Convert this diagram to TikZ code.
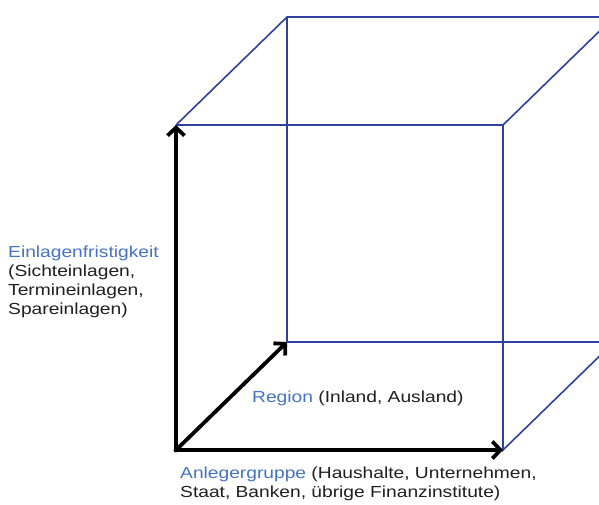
\documentclass[tikz,border=0pt]{standalone}
\usepackage{fontspec}
\setmainfont{Liberation Sans}
\usetikzlibrary{arrows.meta}
\definecolor{kante}{RGB}{47,64,160}
\definecolor{titel}{RGB}{68,114,196}

\begin{document}
\begin{tikzpicture}[x=1pt,y=-1pt,>={Straight Barb[length=8pt,width=17pt]}]
  \tikzstyle{kubus}=[draw=kante,line width=1.6pt]
  \tikzstyle{achse}=[line width=3.8pt,line cap=rect,->]
  \tikzstyle{beschr}=[inner sep=0pt,align=left,anchor=north west,text=black!88,font=\fontsize{16}{19}\selectfont\addfontfeature{FakeStretch=1.2}]
  \useasboundingbox (0,0) rectangle (599,504);
  \clip (0,0) rectangle (599,504);
  % vordere und hintere Ecken
  \coordinate (vu) at (176,450);
  \coordinate (vr) at (503,450);
  \coordinate (vo) at (176,125);
  \coordinate (vor) at (503,125);
  \coordinate (hu) at (287,342);
  \coordinate (hr) at (614,342);
  \coordinate (ho) at (287,17);
  \coordinate (hor) at (614,17);
  % Kanten
  \draw[kubus] (vo) -- (vor) -- (vr) -- (hr);
  \draw[kubus] (vo) -- (ho) -- (hor) -- (vor);
  \draw[kubus] (ho) -- (hu) -- (hr) -- (hor);
  % Achsen
  \draw[achse] (vu) -- (vo);
  \draw[achse] (vu) -- (vr);
  \draw[achse] (vu) -- (hu);
  % Beschriftungen
  \node[beschr] (frist) at (8,246) {\textcolor{titel}{Einlagenfristigkeit}\\(Sichteinlagen,\\Termineinlagen,\\Spareinlagen)};
  \node[beschr] (region) at (252,391) {\textcolor{titel}{Region} (Inland, Ausland)};
  \node[beschr] (anleger) at (180,467) {\textcolor{titel}{Anlegergruppe} (Haushalte, Unternehmen,\\Staat, Banken, übrige Finanzinstitute)};
\end{tikzpicture}
\end{document}
